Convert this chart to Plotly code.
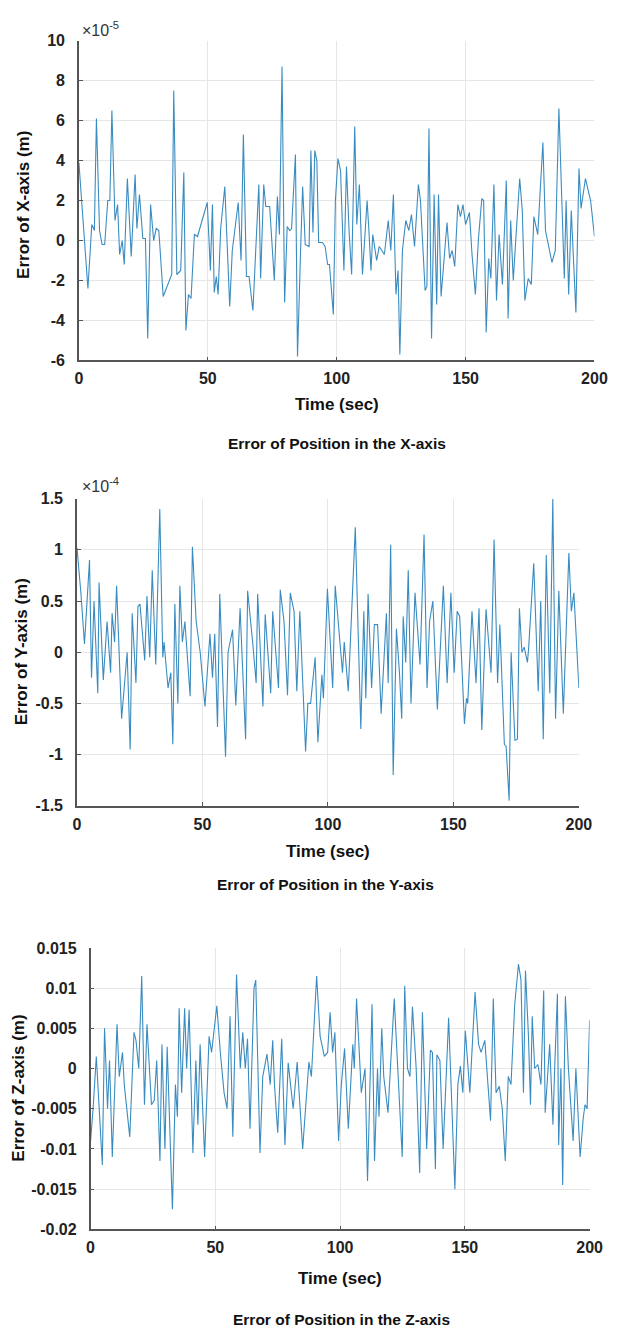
import plotly.graph_objects as go

# ---------------- data ----------------
# X-axis error, units of 1e-5 m
tx = [0, 1.5, 3.5, 5, 6, 6.8, 8, 9, 10, 11.2, 12, 12.8, 14, 15, 15.8, 16.8, 17.6, 18.8, 20.3, 21.8,
      22.5, 23.5, 24.8, 25.8, 26.7, 27.8, 29, 30, 31, 32.7, 34, 36, 36.8, 38, 39.5, 40.7, 41.5, 42.5,
      43.5, 44.8, 46, 47.5, 49.8, 51, 51.8, 52.5, 53.3, 54, 55, 56.6, 58.5, 59.5, 60.5, 61.8, 62.9,
      63.8, 65, 66, 67.5, 68.5, 69.8, 70.5, 71.7, 72.5, 74, 75.8, 77, 77.8, 78.8, 79.8, 80.8, 81.8,
      82.5, 84, 84.8, 86, 86.8, 87.8, 89.3, 90, 90.8, 91.5, 92.3, 93, 94.5, 95.5, 96.5, 97.2, 98.7,
      99.5, 100.5, 101.5, 102.8, 103.8, 104.8, 105.8, 107, 107.8, 108.8, 110, 111.8, 112.5, 113.3,
      114, 115.5, 116.5, 117.5, 118.5, 120, 121, 122, 123, 123.8, 124.5, 125.5, 126.8, 128, 129,
      130.2, 131.7, 132.5, 134.3, 135, 135.8, 136.8, 137.8, 138.8, 139.5, 140.5, 141.8, 142.8, 143.8,
      144.8, 145.8, 147, 148, 149, 150, 151.5, 152.5, 153.8, 155, 156.3, 157, 158, 159, 159.8, 161,
      162, 163, 164.3, 165.8, 166.5, 167.5, 168.5, 169.5, 171, 172, 173, 174.3, 175.5, 176.5, 178,
      180, 181, 183.5, 184.8, 186.2, 187.3, 188.3, 189, 190, 191, 192.8, 194, 194.8, 196.5, 198.5, 200]
ex = [3.9, 1.0, -2.4, 0.8, 0.5, 6.1, 0.5, -0.2, -0.2, 2.0, 2.0, 6.5, 1.0, 1.8, -0.7, 0.0, -1.2, 3.1, -0.8, 3.3,
      0.6, 2.3, 0.1, 0.1, -4.9, 1.8, 0.0, 0.6, 0.5, -2.8, -2.4, -1.7, 7.5, -1.7, -1.5, 3.4, -4.5, -2.7,
      -2.9, 0.3, 0.2, 0.9, 1.9, -1.5, 1.8, -2.6, -1.8, -2.7, 0.6, 2.7, -3.3, -0.5, 0.5, 1.9, -1.0,
      5.3, -1.8, -1.8, -3.5, -0.5, 2.8, -1.9, 2.8, 1.7, 1.7, -2.0, 2.2, 0.3, 8.7, -3.1, 0.7, 0.5,
      0.6, 4.3, -5.8, -0.5, 2.7, -0.2, -0.3, 4.5, 0.4, 4.5, 4.0, -0.1, -0.1, -0.3, -1.2, -1.2, -3.7,
      2.0, 4.1, 3.5, -1.5, 3.7, 0.5, -1.7, 5.7, 0.8, 2.8, -1.7, 2.0, 0.5, -1.5,
      0.3, -1.0, -0.3, -0.5, -0.7, 1.0, -0.5, 2.3, -2.7, -1.5, -5.7, -0.5, 1.0, 0.5, 1.3,
      -0.3, 2.8, 2.0, -2.5, -2.3, 5.6, -4.9, 2.3, -3.2, 2.3, -2.8, -0.5, 0.9, -0.9,
      -0.5, -1.3, 1.8, 1.2, 1.8, 0.8, 1.4, -0.7, -2.7, 0.1, 2.1, 2.0, -4.6, -0.9, -1.9, 2.8,
      -3.0, 0.3, -2.2, 3.0, -3.9, 1.0, -2.0, 0.1, 3.1, 1.5, -3.0, -1.9, -2.2, 1.2, 0.3,
      4.9, 0.5, -1.1, -0.5, 6.6, 1.5, -1.9, 2.0, -2.7, 1.5, -3.6, 3.6, 1.6, 3.1, 2.0, 0.2]

# Y-axis error, units of 1e-4 m
ty = [0, 1.5, 3, 4, 5, 5.8, 6.8, 8.3, 8.8, 10.5, 12, 13.4, 14, 15, 15.8, 17.8, 20, 21.2, 22, 23.5,
      24.3, 25.1, 27, 27.9, 29, 30, 31.4, 33, 34.2, 34.7, 36.3, 37.4, 38.2, 39, 40.2, 41, 42, 43,
      45.1, 46, 47.5, 49.1, 51, 53, 54, 54.9, 56, 56.9, 59.2, 60.2, 62, 63.3, 65, 67.2, 68, 70, 71.4,
      72, 74.1, 75, 77.2, 78, 80.3, 81, 82.5, 83.9, 85, 86.5, 87.6, 88.8, 91.1, 92, 93.1, 94.9, 96,
      97.6, 98.2, 99.8, 101.9, 102.9, 104.5, 105.8, 106.5, 108.1, 110.9, 113.1, 114.3, 115.1, 116,
      117.4, 118.5, 119.8, 121.2, 123.3, 124, 125, 126, 127.3, 128.5, 129.4, 130, 131, 132, 133.1,
      134.7, 136.7, 138.3, 139.5, 140.5, 141.8, 143.6, 146, 147.5, 149, 150.3, 151.5, 152.5, 154.4,
      155.2, 155.7, 157.4, 159, 160.2, 161.3, 163, 165, 166.2, 167.6, 168.5, 170.3, 171, 172.2, 173,
      174.5, 175.5, 176.3, 177.3, 178.2, 179.5, 180, 182, 183.8, 184.8, 185.8, 187, 188.4, 189.6,
      190.7, 192, 193.8, 196, 197, 198, 200]
ey = [1.02, 0.6, 0.08, 0.5, 0.9, -0.25, 0.5, -0.4, 0.68, -0.27, 0.3, -0.2, 0.38, 0.1, 0.65, -0.65, 0.0, -0.95, 0.38, -0.3,
      0.45, 0.47, -0.08, 0.55, -0.05, 0.8, -0.12, 1.4, -0.05, 0.1, -0.35, -0.2, -0.9, 0.47, -0.5, 0.65, 0.1, 0.3,
      -0.43, 1.03, 0.3, 0.0, -0.53, 0.18, -0.25, 0.18, -0.73, 0.57, -1.02, 0.0, 0.22, -0.52, 0.43, -0.85, 0.6, 0.1, -0.3,
      0.57, -0.53, 0.37, -0.4, 0.4, -0.35, 0.61, 0.3, -0.42, 0.58, 0.4, -0.38, 0.4, -0.97, -0.5, -0.5, -0.05, -0.88,
      -0.22, -0.45, 0.62, -0.35, 0.65, 0.2, -0.2, 0.1, -0.38, 1.22, -0.75, 0.4, -0.45, 0.57,
      -0.35, 0.27, 0.27, -0.6, 0.38, -0.3, 1.05, -1.2, 0.23, -0.2, -0.65, 0.35, -0.1, 0.8, -0.5,
      0.58, -0.12, 1.15, -0.35, 0.3, 0.5, -0.56, 0.65, -0.3, 0.58, -0.2, 0.4, 0.35, -0.7,
      -0.45, -0.5, 0.4, -0.3, 0.43, -0.76, 0.42, -0.2, 1.1, -0.3, 0.27, -0.9, -0.92, -1.45, 0.0,
      -0.86, -0.85, 0.43, 0.0, 0.05, -0.1, 0.05, 0.87, -0.38, 0.5, -0.85, 0.95, -0.4, 1.5,
      -0.65, 0.6, -0.6, 0.97, 0.4, 0.58, -0.35]

# Z-axis error, m
tz = [0, 1, 2.3, 3.5, 4.7, 5.6, 6.8, 7.6, 8.7, 10.6, 11.5, 12.8, 13.5, 15.7, 17.4, 18.2, 19.3, 20.5, 21.6,
      22.6, 24.4, 25.5, 26.5, 27.8, 28.6, 29.8, 30.7, 32.8, 34, 34.8, 35.5, 36.5, 37.7, 38.5, 39.5, 41,
      42.2, 43, 43.9, 45.7, 47.5, 48.5, 50.6, 52, 53.5, 54.7, 55.9, 57, 58.5, 60, 61, 62, 62.9, 63.9,
      65.5, 66.2, 67.9, 69, 70.7, 72, 73, 73.7, 75, 76.6, 77.9, 79.2, 81.2, 82.8, 85, 87.5, 88.5, 90.6,
      92, 93.7, 95, 96, 97, 97.9, 99.4, 100.5, 101.8, 103.3, 105.1, 105.7, 106.6, 108.5, 110, 111,
      112.8, 113.8, 115, 115.6, 116.7, 117.5, 119.2, 121.7, 124.9, 125.9, 127, 128, 129, 130.5, 131.9,
      133, 134.7, 136.2, 137, 138.2, 138.8, 140, 141.3, 143.5, 146, 147.2, 148.2, 149.2, 150.2, 152,
      154.1, 155.5, 156.5, 158, 160.3, 161.4, 162.5, 163.8, 165, 166.2, 167.4, 168.5, 170, 171.5,
      172.5, 173.5, 174.3, 175.5, 176.3, 177, 178, 179.3, 180.5, 181.6, 182.2, 184, 185.3, 186,
      187.1, 187.6, 188.5, 189.2, 190.3, 191.5, 193.4, 194.5, 196.2, 197.5, 198.2, 199, 200]
ez = [-0.009, -0.005, 0.0015, -0.006, -0.012, 0.005, -0.005, 0.001, -0.011, 0.0055, -0.001, 0.002, -0.002, -0.0085, 0.0045, 0.0035, 0.0, 0.0115, -0.0045,
      0.0055, -0.0045, -0.004, 0.001, -0.0115, 0.003, -0.01, 0.0027, -0.0175, -0.002, -0.006, 0.0075, -0.003, 0.0075, 0.0, 0.0073, -0.0105,
      0.001, -0.007, 0.003, -0.011, 0.004, 0.002, 0.0078, 0.002, -0.003, -0.005, 0.0065, -0.0085, 0.0117, 0.0, 0.0045, 0.0, 0.0037, -0.0075,
      0.01, 0.011, -0.0105, -0.001, 0.0018, -0.002, 0.0035, -0.002, -0.008, 0.0037, -0.0095, 0.0007, -0.005, 0.0008, -0.01, 0.0008, -0.001, 0.0115,
      0.004, 0.0015, 0.002, 0.007, 0.002, 0.0045, -0.009, -0.002, 0.0025, -0.0075, 0.003, 0.0, 0.0087, -0.003, 0.0, -0.014,
      0.008, -0.0115, 0.0, -0.006, 0.005, -0.001, -0.0055, 0.0087, -0.011, 0.0103, 0.0, -0.001, 0.0077, 0.0, -0.013,
      0.007, -0.01, 0.0023, 0.002, -0.0125, 0.0017, 0.001, -0.01, 0.0063, -0.015, -0.002, 0.0003, -0.003, 0.0047, -0.003,
      0.0095, 0.003, 0.002, 0.0035, -0.0065, 0.0087, -0.003, -0.0022, -0.005, -0.0115, -0.001, -0.002, 0.008, 0.013,
      0.011, -0.003, 0.0122, 0.004, -0.0045, 0.0065, 0.0, 0.0005, -0.002, 0.0097, -0.0055, 0.003, -0.007, 0.0,
      0.0093, -0.0095, 0.0, -0.0145, 0.009, 0.0, -0.009, 0.0, -0.011, -0.006, -0.0045, -0.005, 0.006]

x_ticks = [0, 50, 100, 150, 200]
y1_ticks = [10, 8, 6, 4, 2, 0, -2, -4, -6]
y2_ticks = [1.5, 1, 0.5, 0, -0.5, -1, -1.5]
y2_labels = ["1.5", "1", "0.5", "0", "-0.5", "-1", "-1.5"]
y3_ticks = [0.015, 0.01, 0.005, 0, -0.005, -0.01, -0.015, -0.02]
y3_labels = ["0.015", "0.01", "0.005", "0", "-0.005", "-0.01", "-0.015", "-0.02"]

# ---------------- layout ----------------
W, H = 624, 1340
FONT = "Liberation Sans, Arial, sans-serif"
LINE = "#3a8cc0"

def px(x):
    return x / W

def py(y):
    return 1 - y / H

panels = [
    dict(x0=77, x1=607, y0=33, y1=357, rng=[-6, 10], tv=y1_ticks, tt=[str(v) for v in y1_ticks]),
    dict(x0=75, x1=591, y0=497, y1=808, rng=[-1.5, 1.5], tv=y2_ticks, tt=y2_labels),
    dict(x0=89, x1=602, y0=952, y1=1237, rng=[-0.02, 0.015], tv=y3_ticks, tt=y3_labels),
]
series = [(tx, ex), (ty, ey), (tz, ez)]

fig = go.Figure()
layout = dict(width=W, height=H, margin=dict(l=0, r=0, t=0, b=0),
              paper_bgcolor="white", plot_bgcolor="white", showlegend=False)

tickfont = dict(family=FONT, size=16, color="#222222", weight="bold")
for i, (p, (t, e)) in enumerate(zip(panels, series), start=1):
    sfx = "" if i == 1 else str(i)
    fig.add_trace(go.Scatter(x=t, y=e, mode="lines", line=dict(color=LINE, width=1.1),
                             xaxis="x" + sfx, yaxis="y" + sfx, hoverinfo="skip"))
    layout["xaxis" + sfx] = dict(domain=[px(p["x0"]), px(p["x1"])], range=[0, 200],
                                 anchor="y" + sfx, tickvals=x_ticks, ticktext=[str(v) for v in x_ticks],
                                 showgrid=True, gridcolor="#e6e6e6", gridwidth=1,
                                 showline=True, linecolor="#555555", linewidth=1.5,
                                 ticks="inside", ticklen=4, tickcolor="#555555",
                                 tickfont=tickfont, zeroline=False, ticklabelstandoff=3)
    layout["yaxis" + sfx] = dict(domain=[py(p["y1"]), py(p["y0"])], range=p["rng"],
                                 anchor="x" + sfx, tickvals=p["tv"], ticktext=p["tt"],
                                 showgrid=True, gridcolor="#e6e6e6", gridwidth=1,
                                 showline=True, linecolor="#555555", linewidth=1.5,
                                 ticks="inside", ticklen=4, tickcolor="#555555",
                                 tickfont=tickfont, zeroline=False, ticklabelstandoff=9)

fig.update_layout(**layout)

def ann(text, x, y, size=15, angle=0, xanchor="center"):
    fig.add_annotation(text=text, x=px(x), y=py(y), xref="paper", yref="paper",
                       xanchor=xanchor, yanchor="middle", showarrow=False, textangle=angle,
                       font=dict(family=FONT, size=size, color="#111111", weight="bold"))

ann("Error of X-axis (m)", 20, 199, size=17, angle=-90)
ann("Error of Y-axis (m)", 18, 652, size=17, angle=-90)
ann("Error of Z-axis (m)", 15, 1094, size=17, angle=-90)

ann("Time (sec)", 342, 402, size=17)
ann("Time (sec)", 333, 854, size=17)
ann("Time (sec)", 345, 1287, size=17)

ann("Error of Position in the X-axis", 342, 441, size=15.5)
ann("Error of Position in the Y-axis", 331, 888, size=15.5)
ann("Error of Position in the Z-axis", 347, 1328, size=15.5)

fig.add_annotation(text="×10<sup>-5</sup>", x=px(78), y=py(21), xref="paper", yref="paper",
                   xanchor="left", yanchor="middle", showarrow=False,
                   font=dict(family=FONT, size=16, color="#333333"))
fig.add_annotation(text="×10<sup>-4</sup>", x=px(78), y=py(483), xref="paper", yref="paper",
                   xanchor="left", yanchor="middle", showarrow=False,
                   font=dict(family=FONT, size=16, color="#333333"))

fig.write_html("out.html")
